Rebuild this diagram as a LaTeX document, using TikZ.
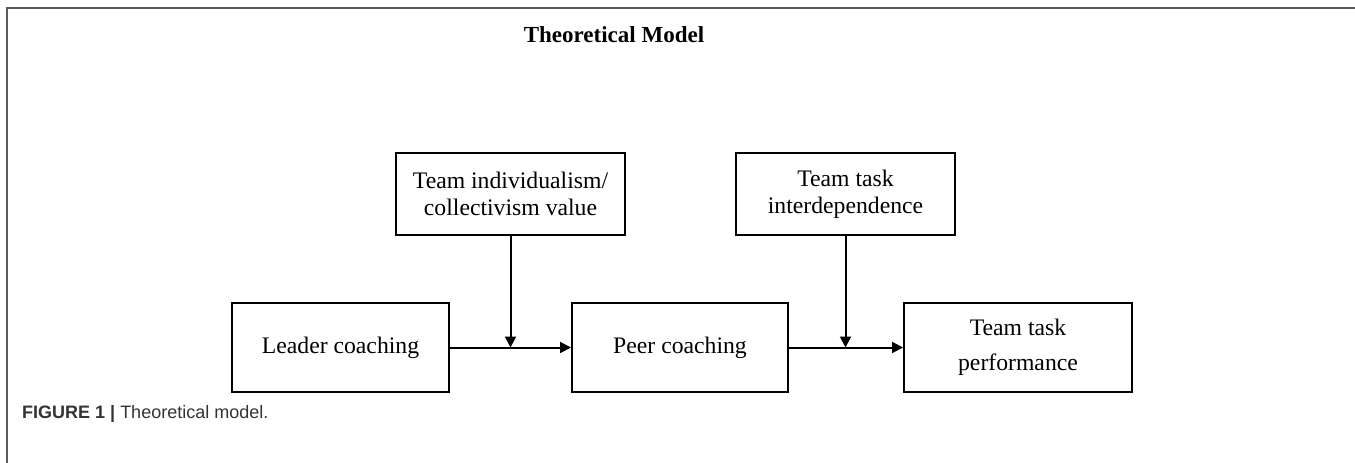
\documentclass[tikz,border=0pt]{standalone}
\usepackage{fontspec}
\setmainfont{Liberation Serif}
\newfontfamily\capfont{Liberation Sans}
\usetikzlibrary{arrows.meta}
\definecolor{framegray}{RGB}{90,90,90}
\definecolor{captext}{RGB}{51,51,51}
\begin{document}
\begin{tikzpicture}[x=1pt,y=-1pt,
  modbox/.style={draw, line width=2pt, inner sep=0pt, align=center,
    minimum height=82pt, font=\fontsize{23.7}{27}\selectfont},
  varbox/.style={draw, line width=2pt, inner sep=0pt, align=center,
    minimum height=89pt, font=\fontsize{23.7}{35}\selectfont},
  arr/.style={line width=2pt, -{Triangle[length=11pt,width=11pt]}}]
\useasboundingbox (0,0) rectangle (1355,463);
\draw[framegray, line width=1.5pt] (7,463) -- (7,8) -- (1355,8);
\node[anchor=base, font=\fontsize{23}{27}\selectfont\bfseries] (title) at (614,42) {Theoretical Model};
\node[modbox, minimum width=229pt] (indiv) at (510.5,194) {Team individualism/\\collectivism value};
\node[modbox, minimum width=219pt] (inter) at (845.5,194) {Team task\\interdependence};
\node[varbox, minimum width=217pt] (leader) at (340.5,347.5) {Leader coaching};
\node[varbox, minimum width=216pt] (peer) at (680,347.5) {Peer coaching};
\node[varbox, minimum width=228pt] (perf) at (1018,347.5) {Team task\\performance};
\draw[arr] (leader.east) -- (peer.west);
\draw[arr] (peer.east) -- (perf.west);
\draw[arr] (indiv.south) -- (indiv.south |- leader.east);
\draw[arr] (inter.south) -- (inter.south |- peer.east);
\node[anchor=base west, inner sep=0pt, text=captext, font=\capfont\fontsize{18}{22}\selectfont] (cap) at (22,418) {\textbf{FIGURE 1 |} Theoretical model.};
\end{tikzpicture}
\end{document}
